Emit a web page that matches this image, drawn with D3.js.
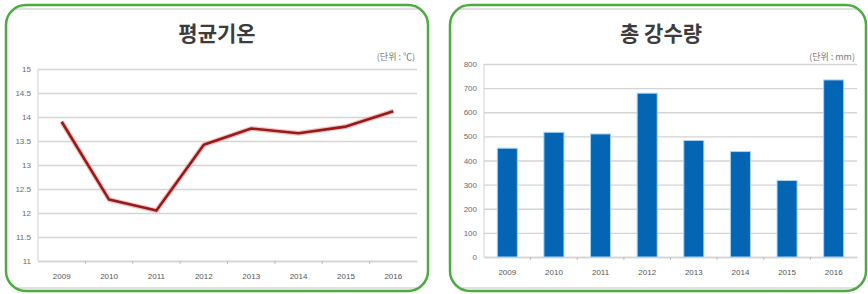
<!DOCTYPE html>
<html>
<head>
<meta charset="utf-8">
<script src="https://cdn.jsdelivr.net/npm/d3@7"></script>
<style>
  body { margin: 0; background: #fff; }
  svg { display: block; }
</style>
</head>
<body>
<svg id="chart"></svg>
<script>
const years = ["2009", "2010", "2011", "2012", "2013", "2014", "2015", "2016"];
const temps = [13.9, 12.28, 12.05, 13.42, 13.76, 13.66, 13.8, 14.12];
const rain = [451, 517, 510, 679, 483, 437, 317, 734];
const tempTicks = [11, 11.5, 12, 12.5, 13, 13.5, 14, 14.5, 15];
const rainTicks = [0, 100, 200, 300, 400, 500, 600, 700, 800];

const W = 868, H = 294;
const font = "'Noto Sans CJK KR', 'Noto Sans', sans-serif";
const labelFont = "'Liberation Sans', Arial, sans-serif";

const svg = d3.select("#chart").attr("width", W).attr("height", H);

function panel(opts, id) {
  const g = svg.append("g");
  const [bx, by, bw, bh] = opts.box;

  svg.append("clipPath").attr("id", id)
    .append("rect")
    .attr("x", bx).attr("y", by).attr("width", bw).attr("height", bh)
    .attr("rx", 20).attr("ry", 20);

  g.append("rect")
    .attr("x", bx).attr("y", by).attr("width", bw).attr("height", bh)
    .attr("rx", 20).attr("ry", 20)
    .attr("fill", "#fff");

  // faint edges of the pasted chart image
  g.append("g").attr("clip-path", `url(#${id})`)
    .selectAll("line")
    .data([by + 4, by + bh - 3])
    .join("line")
    .attr("x1", bx).attr("x2", bx + bw)
    .attr("y1", d => d).attr("y2", d => d)
    .attr("stroke", "#d6d6d6").attr("stroke-width", 1.5);

  const x = d3.scaleBand().domain(years).range([opts.left, opts.right]).padding(0);
  const y = d3.scaleLinear().domain(opts.domain).range([opts.bottom, opts.top]);

  // gridlines
  g.append("g")
    .attr("transform", `translate(${opts.left},0)`)
    .call(d3.axisLeft(y).tickValues(opts.ticks).tickSize(-(opts.right - opts.left)).tickFormat(""))
    .call(a => a.select(".domain").remove())
    .call(a => a.selectAll("line").attr("stroke", "#d4d4d4").attr("stroke-width", 1.4));

  // y labels
  g.append("g")
    .attr("transform", `translate(${opts.left - 4},0)`)
    .call(d3.axisLeft(y).tickValues(opts.ticks).tickSize(0).tickFormat(d3.format("")))
    .call(a => a.select(".domain").remove())
    .call(a => a.selectAll("text")
      .attr("fill", "#6a6a6a").attr("font-size", 8).attr("font-family", labelFont));

  // vertical axis line
  g.append("line")
    .attr("x1", opts.left).attr("x2", opts.left)
    .attr("y1", opts.top).attr("y2", opts.bottom)
    .attr("stroke", "#d8d8d8").attr("stroke-width", 1.2);

  // x axis
  g.append("g")
    .attr("transform", `translate(0,${opts.bottom})`)
    .call(d3.axisBottom(x).tickSize(0).tickPadding(12))
    .call(a => a.select(".domain").attr("stroke", "#d4d4d4").attr("stroke-width", 1.4))
    .call(a => a.selectAll("text")
      .attr("fill", "#555").attr("font-size", 8).attr("font-family", labelFont));

  // small ticks between categories
  g.append("g").selectAll("line")
    .data(years.slice(1))
    .join("line")
    .attr("x1", d => x(d)).attr("x2", d => x(d))
    .attr("y1", opts.bottom).attr("y2", opts.bottom + 3)
    .attr("stroke", "#bbb");

  // title
  g.append("text")
    .attr("x", opts.titleX).attr("y", 41)
    .attr("text-anchor", "middle")
    .attr("font-family", font).attr("font-weight", "bold")
    .attr("font-size", 21).attr("fill", "#3c3c3c")
    .text(opts.title);

  // unit
  g.append("text")
    .attr("x", opts.right - 2).attr("y", 60)
    .attr("text-anchor", "end")
    .attr("font-family", font).attr("font-size", 9).attr("fill", "#777")
    .text(opts.unit);

  // green rounded frame
  g.append("rect")
    .attr("x", bx).attr("y", by).attr("width", bw).attr("height", bh)
    .attr("rx", 20).attr("ry", 20)
    .attr("fill", "none")
    .attr("stroke", "#4aab3e")
    .attr("stroke-width", 2.5);

  return { g, x, y };
}

// 평균기온
const p1 = panel({
  box: [6, 5, 422, 286], left: 38, right: 417, top: 69, bottom: 261,
  domain: [11, 15], ticks: tempTicks, title: "평균기온", titleX: 217, unit: "(단위 : ℃)"
}, "clipL");
const line = d3.line()
  .x((d, i) => p1.x(years[i]) + p1.x.bandwidth() / 2)
  .y(d => p1.y(d));
p1.g.append("path").datum(temps)
  .attr("d", line).attr("fill", "none")
  .attr("stroke", "#f08080").attr("stroke-opacity", 0.5)
  .attr("stroke-width", 5).attr("stroke-linejoin", "round");
p1.g.append("path").datum(temps)
  .attr("d", line).attr("fill", "none")
  .attr("stroke", "#951b1b").attr("stroke-width", 2.6)
  .attr("stroke-linejoin", "round");

// 총 강수량
const p2 = panel({
  box: [450, 5, 416, 286], left: 484, right: 857, top: 64, bottom: 257,
  domain: [0, 800], ticks: rainTicks, title: "총 강수량", titleX: 661, unit: "(단위 : mm)"
}, "clipR");
const xb = d3.scaleBand().domain(years).range([484, 857]).paddingInner(0.57).paddingOuter(0.285);
p2.g.append("g").selectAll("rect")
  .data(rain)
  .join("rect")
  .attr("x", (d, i) => xb(years[i]))
  .attr("y", d => p2.y(d))
  .attr("width", xb.bandwidth())
  .attr("height", d => p2.y(0) - p2.y(d))
  .attr("fill", "#0565b5")
  .attr("stroke", "#a9d4f5").attr("stroke-width", 1);
</script>
</body>
</html>
